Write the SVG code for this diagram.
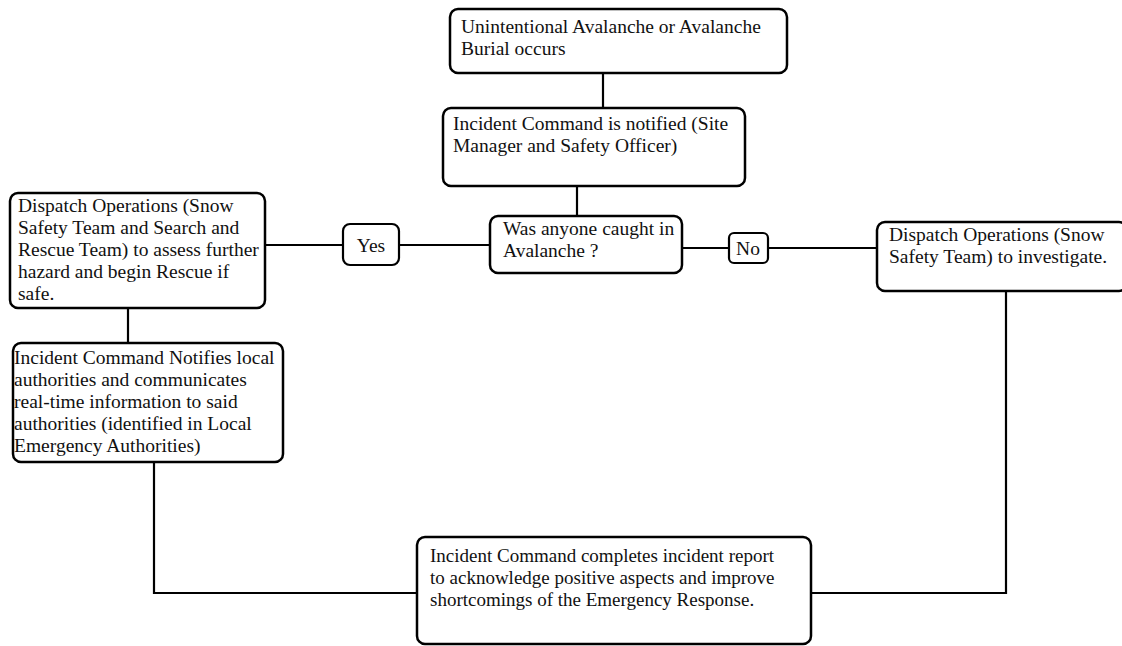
<svg xmlns="http://www.w3.org/2000/svg" width="1122" height="646" viewBox="0 0 1122 646">
<style>
.box{fill:#fff;stroke:#000;stroke-width:2.5}
.lbl{fill:#fff;stroke:#000;stroke-width:2.2}
.con{fill:none;stroke:#000;stroke-width:2.2}
text{font-family:"Liberation Serif","Times New Roman",serif;font-size:19.5px;fill:#111}
.sm{font-size:19px}
</style>
<rect width="1122" height="646" fill="#fff"/>
<g id="connectors">
<line class="con" x1="603" y1="73" x2="603" y2="108"/>
<line class="con" x1="577" y1="186" x2="577" y2="216"/>
<line class="con" x1="265" y1="245" x2="343" y2="245"/>
<line class="con" x1="399" y1="245" x2="490" y2="245"/>
<line class="con" x1="682" y1="248" x2="729" y2="248"/>
<line class="con" x1="768" y1="248" x2="877" y2="248"/>
<line class="con" x1="128" y1="308" x2="128" y2="343"/>
<polyline class="con" points="154,462 154,593 417,593"/>
<polyline class="con" points="1006,291 1006,593 811,593"/>
</g>
<g id="n1">
<rect class="box" x="450" y="9" width="337" height="64" rx="8"/>
<text x="461" y="33">Unintentional Avalanche or Avalanche</text>
<text x="461" y="55">Burial occurs</text>
</g>
<g id="n2">
<rect class="box" x="443" y="108" width="302" height="78" rx="8"/>
<text x="453" y="130">Incident Command is notified (Site</text>
<text x="453" y="152">Manager and Safety Officer)</text>
</g>
<g id="n3">
<rect class="box" x="490" y="216" width="192" height="57" rx="8"/>
<text x="503" y="235">Was anyone caught in</text>
<text x="503" y="257">Avalanche ?</text>
</g>
<g id="yes">
<rect class="lbl" x="343" y="224" width="56" height="41" rx="7"/>
<text x="371" y="252" text-anchor="middle">Yes</text>
</g>
<g id="no">
<rect class="lbl" x="729" y="233" width="39" height="30" rx="5"/>
<text x="748" y="255" text-anchor="middle">No</text>
</g>
<g id="n4">
<rect class="box" x="10" y="193" width="255" height="115" rx="8"/>
<text x="18" y="212">Dispatch Operations (Snow</text>
<text x="18" y="234">Safety Team and Search and</text>
<text x="18" y="256">Rescue Team) to assess further</text>
<text x="18" y="278">hazard and begin Rescue if</text>
<text x="18" y="300">safe.</text>
</g>
<g id="n5">
<rect class="box" x="877" y="222" width="250" height="69" rx="8"/>
<text x="889" y="241">Dispatch Operations (Snow</text>
<text x="889" y="263">Safety Team) to investigate.</text>
</g>
<g id="n6">
<rect class="box" x="13" y="343" width="270" height="119" rx="8"/>
<text x="14" y="364">Incident Command Notifies local</text>
<text x="14" y="386">authorities and communicates</text>
<text x="14" y="408">real-time information to said</text>
<text x="14" y="430">authorities (identified in Local</text>
<text x="14" y="452">Emergency Authorities)</text>
</g>
<g id="n7">
<rect class="box" x="417" y="537" width="394" height="107" rx="8"/>
<text class="sm" x="430" y="562">Incident Command completes incident report</text>
<text class="sm" x="430" y="584">to acknowledge positive aspects and improve</text>
<text class="sm" x="430" y="606">shortcomings of the Emergency Response.</text>
</g>
</svg>
